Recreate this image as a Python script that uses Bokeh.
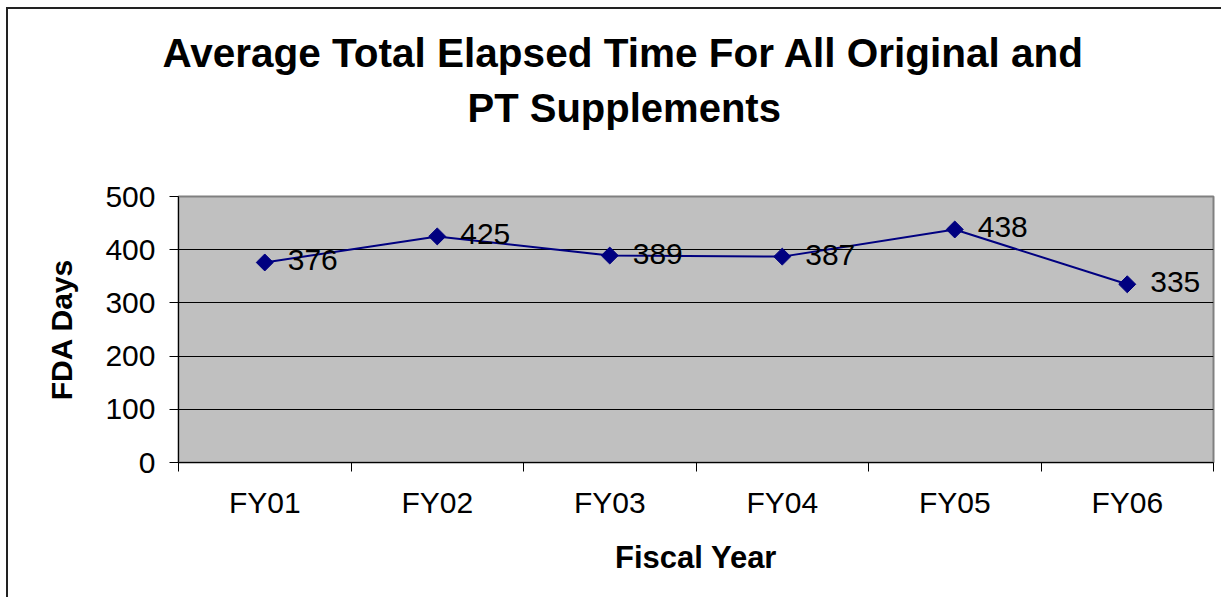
import math
from bokeh.plotting import figure
from bokeh.models import Range1d, FixedTicker, Title, ColumnDataSource
from bokeh.core.properties import value
from bokeh.embed import file_html
from bokeh.resources import INLINE

categories = ["FY01", "FY02", "FY03", "FY04", "FY05", "FY06"]
fda_days = [376, 425, 389, 387, 438, 335]
y_ticks = [0, 100, 200, 300, 400, 500]
title_lines = ["Average Total Elapsed Time For All Original and", "PT Supplements"]

FONT = "Liberation Sans"
NAVY = "#000080"

xpos = [i + 0.5 for i in range(len(categories))]
src = ColumnDataSource(dict(x=xpos, y=fda_days, label=[str(v) for v in fda_days]))

p = figure(width=1215, height=590, output_backend="svg", toolbar_location=None,
           x_range=Range1d(0, len(categories)), y_range=Range1d(0, 500),
           min_border_left=170, min_border_right=10, min_border_top=0, min_border_bottom=137)
p.background_fill_color = "#C0C0C0"
p.border_fill_color = "white"
p.outline_line_color = "#808080"
p.outline_line_width = 2
p.styles = {"margin-left": "6px", "margin-top": "7px",
            "border-left": "2px solid #222222", "border-top": "2px solid #222222"}

# title panels, top to bottom: small top spacer (figure title), line 1, line 2, spacer above frame
p.title.text = " "
p.title.text_font = FONT
p.title.text_font_size = "1px"
spacer = Title(text=" ", text_font=FONT, text_font_size="43px")
t2 = Title(text=title_lines[1], align="left", offset=289, vertical_align="top",
           text_font=FONT, text_font_style="bold", text_font_size="40px", text_color="black")
t1 = Title(text=title_lines[0], align="left", offset=-16, vertical_align="bottom",
           text_font=FONT, text_font_style="bold", text_font_size="40.5px", text_color="black")
p.add_layout(spacer, "above")
p.add_layout(t2, "above")
p.add_layout(t1, "above")

# grid
p.xgrid.visible = False
p.ygrid.ticker = FixedTicker(ticks=[t for t in y_ticks if 0 < t < 500])
p.ygrid.grid_line_color = "black"
p.ygrid.grid_line_width = 1

# y axis
ya = p.yaxis[0]
ya.ticker = FixedTicker(ticks=y_ticks)
ya.axis_line_color = "black"
ya.axis_line_width = 1
ya.major_tick_in = 0
ya.major_tick_out = 9
ya.major_tick_line_color = "black"
ya.minor_tick_line_color = None
ya.major_label_text_font = FONT
ya.major_label_text_font_size = "30px"
ya.major_label_text_color = "black"
ya.major_label_standoff = 14
ya.axis_label = "FDA Days"
ya.axis_label_text_font = FONT
ya.axis_label_text_font_style = "bold"
ya.axis_label_text_font_size = "30px"
ya.axis_label_text_color = "black"
ya.axis_label_standoff = 24

# x axis
xa = p.xaxis[0]
xa.ticker = FixedTicker(ticks=xpos, minor_ticks=list(range(len(categories) + 1)))
xa.major_label_overrides = {x: c for x, c in zip(xpos, categories)}
xa.axis_line_color = "black"
xa.axis_line_width = 1
xa.major_tick_line_color = None
xa.major_tick_in = 0
xa.major_tick_out = 9
xa.minor_tick_in = 0
xa.minor_tick_out = 9
xa.minor_tick_line_color = "black"
xa.major_label_text_font = FONT
xa.major_label_text_font_size = "30px"
xa.major_label_text_color = "black"
xa.major_label_standoff = 14
xa.axis_label = "Fiscal Year"
xa.axis_label_text_font = FONT
xa.axis_label_text_font_style = "bold"
xa.axis_label_text_font_size = "31px"
xa.axis_label_text_color = "black"
xa.axis_label_standoff = 18

# series
p.line("x", "y", source=src, line_color=NAVY, line_width=2)
p.scatter("x", "y", source=src, marker="square", size=12, angle=math.pi / 4,
          fill_color=NAVY, line_color=NAVY)
p.text("x", "y", text="label", source=src, x_offset=23, y_offset=-2,
       text_align="left", text_baseline="middle",
       text_font=value(FONT), text_font_size="30px", text_color="black")

open("out.html", "w").write(file_html(p, INLINE))
